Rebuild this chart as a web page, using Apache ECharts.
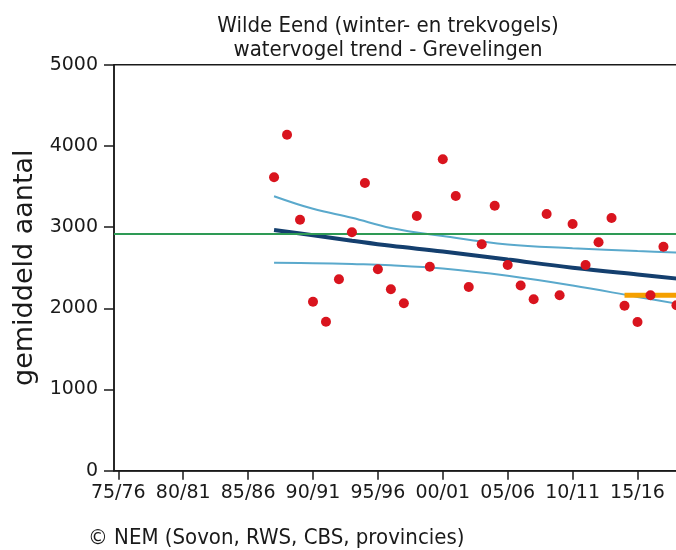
<!DOCTYPE html>
<html><head><meta charset="utf-8">
<script src="https://cdn.jsdelivr.net/npm/echarts@6/dist/echarts.min.js"></script>
<style>html,body{margin:0;padding:0;background:#fff;overflow:hidden}#c{width:703px;height:550px}</style>
</head><body><div id="c"></div>
<script>
const titleLines = ['Wilde Eend (winter- en trekvogels)', 'watervogel trend - Grevelingen'];
const yAxisName = 'gemiddeld aantal';
const footerText = '© NEM (Sovon, RWS, CBS, provincies)';
const tickYears = [1975, 1980, 1985, 1990, 1995, 2000, 2005, 2010, 2015];
const tickLabels = ['75/76', '80/81', '85/86', '90/91', '95/96', '00/01', '05/06', '10/11', '15/16'];
const countYears = [1987,1988,1989,1990,1991,1992,1993,1994,1995,1996,1997,1998,1999,2000,2001,2002,2003,2004,2005,2006,2007,2008,2009,2010,2011,2012,2013,2014,2015,2016,2017,2018];
const counts = [3613,4138,3091,2081,1835,2357,2936,3543,2481,2234,2062,3137,2512,3835,3383,2262,2788,3264,2533,2281,2111,3161,2160,3038,2533,2813,3112,2032,1831,2160,2759,2037];
const trendYears = [1987, 1990, 1993, 1996, 2000, 2005, 2010, 2015, 2019];
const trend = [2964, 2900, 2833, 2770, 2700, 2600, 2500, 2415, 2350];
const upperCI = [3380, 3225, 3115, 2990, 2890, 2785, 2740, 2705, 2680];
const lowerCI = [2562, 2556, 2545, 2530, 2490, 2400, 2280, 2140, 2030];
const meanLevel = 2913;
const recentYears = [2014, 2019];
const recentLevel = 2160;

const pairs = (xs, ys) => xs.map((x, i) => [x, ys[i]]);
const chart = echarts.init(document.getElementById('c'), null, {renderer: 'canvas'});
const font = 'DejaVu Sans';
const titleFont = '"DejaVu Sans Condensed", "DejaVu Sans"';
chart.setOption({
  animation: false,
  backgroundColor: '#fff',
  grid: {left: 114, top: 64.7, right: 0.6, bottom: 79.3, show: true, borderColor: '#1a1a1a', borderWidth: 1.5, containLabel: false, outerBoundsMode: 'none'},
  xAxis: {
    type: 'value', min: 1974.67, max: 2020,
    axisLine: {show: true, onZero: false, lineStyle: {color: '#1a1a1a', width: 1.5}},
    axisTick: {show: true, length: 9, customValues: tickYears, lineStyle: {color: '#1a1a1a', width: 1.5}},
    axisLabel: {customValues: tickYears, formatter: v => tickLabels[tickYears.indexOf(v)], fontFamily: font, fontSize: 19, color: '#1a1a1a', margin: 13},
    splitLine: {show: false}
  },
  yAxis: {
    type: 'value', min: 0, max: 5000, interval: 1000,
    name: yAxisName, nameLocation: 'middle', nameRotate: 90, nameGap: 71,
    nameTextStyle: {fontFamily: font, fontSize: 27, color: '#1a1a1a'},
    axisLine: {show: true, lineStyle: {color: '#1a1a1a', width: 1.5}},
    axisTick: {show: true, length: 10, lineStyle: {color: '#1a1a1a', width: 1.5}},
    axisLabel: {formatter: v => String(v), fontFamily: font, fontSize: 19, color: '#1a1a1a', margin: 16},
    splitLine: {show: false}
  },
  graphic: [
    {type: 'text', x: 388, y: 26, style: {text: titleLines[0], font: '22px ' + titleFont, fill: '#1a1a1a', textAlign: 'center', textVerticalAlign: 'middle'}},
    {type: 'text', x: 388, y: 50, style: {text: titleLines[1], font: '22px ' + titleFont, fill: '#1a1a1a', textAlign: 'center', textVerticalAlign: 'middle'}},
    {type: 'text', x: 88, y: 538.5, style: {text: footerText, font: '22px ' + titleFont, fill: '#1a1a1a', textAlign: 'left', textVerticalAlign: 'middle'}}
  ],
  series: [
    {type: 'line', name: 'gemiddelde', data: [], symbol: 'none', silent: true,
     markLine: {silent: true, symbol: 'none', label: {show: false}, lineStyle: {color: '#2e9a55', width: 2, type: 'solid'}, data: [{yAxis: meanLevel}]}, z: 2},
    {type: 'line', name: 'bovengrens', data: pairs(trendYears, upperCI), smooth: 0.4, symbol: 'none', lineStyle: {color: '#5aa9cc', width: 2}, z: 3},
    {type: 'line', name: 'ondergrens', data: pairs(trendYears, lowerCI), smooth: 0.4, symbol: 'none', lineStyle: {color: '#5aa9cc', width: 2}, z: 3},
    {type: 'line', name: 'trend', data: pairs(trendYears, trend), smooth: 0.4, symbol: 'none', lineStyle: {color: '#143f6e', width: 4}, z: 4},
    {type: 'line', name: 'recent', data: pairs(recentYears, [recentLevel, recentLevel]), symbol: 'none', lineStyle: {color: '#f5a000', width: 5}, z: 5},
    {type: 'scatter', name: 'aantal', data: pairs(countYears, counts), symbol: 'circle', symbolSize: 10, itemStyle: {color: '#d9141e', opacity: 1}, z: 6}
  ]
});
</script></body></html>
